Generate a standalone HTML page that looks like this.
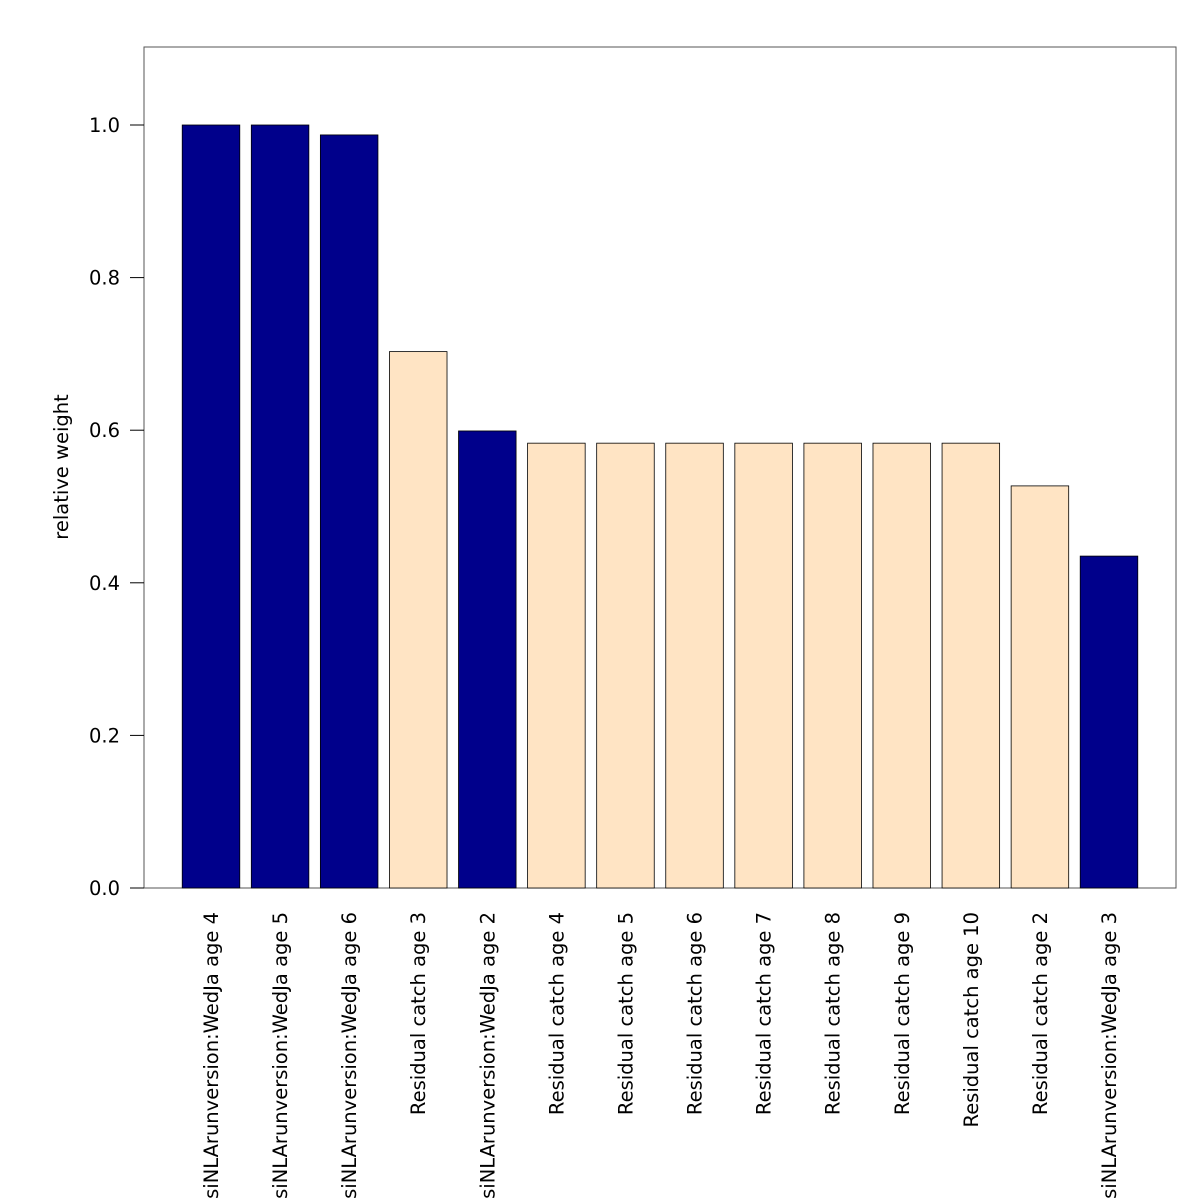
<!DOCTYPE html>
<html><head><meta charset="utf-8"><style>
html,body{margin:0;padding:0;background:#fff;}
svg{display:block;font-family:"DejaVu Sans","Liberation Sans",sans-serif;}
</style></head><body>
<svg id="chart" width="1200" height="1200" viewBox="0 0 1200 1200" xmlns="http://www.w3.org/2000/svg">
<rect x="144" y="47" width="1032" height="841" fill="none" stroke="#555" stroke-width="1"/>
<g id="yaxis"></g>
<g id="bars"></g>
<g id="xlabels"></g>
<text x="0" y="0" transform="translate(68,467) rotate(-90)" text-anchor="middle" font-size="19.5">relative weight</text>
</svg>
<script>
const categories = ["stasiNLArunversion:WedJa age 4","stasiNLArunversion:WedJa age 5","stasiNLArunversion:WedJa age 6","Residual catch age 3","stasiNLArunversion:WedJa age 2","Residual catch age 4","Residual catch age 5","Residual catch age 6","Residual catch age 7","Residual catch age 8","Residual catch age 9","Residual catch age 10","Residual catch age 2","stasiNLArunversion:WedJa age 3"];
const values = [1.0,1.0,0.987,0.703,0.599,0.583,0.583,0.583,0.583,0.583,0.583,0.583,0.527,0.435];
const groups = ["survey","survey","survey","catch","survey","catch","catch","catch","catch","catch","catch","catch","catch","survey"];
const yTicks = [0,0.2,0.4,0.6,0.8,1.0];
const yTickLabels = ["0.0","0.2","0.4","0.6","0.8","1.0"];

const NS="http://www.w3.org/2000/svg";
const y0=888, pxPerUnit=763;
function yScale(v){return y0 - v*pxPerUnit;}
const usrMin=-0.464, pxPerX=1032/17.928;
function xScale(u){return 144 + (u-usrMin)*pxPerX;}
const yAxis=document.getElementById('yaxis');
yTicks.forEach((t,i)=>{
  const y=yScale(t);
  const l=document.createElementNS(NS,'line');
  
  
  l.setAttribute('x1',130);l.setAttribute('x2',144);l.setAttribute('y1',y);l.setAttribute('y2',y);
  l.setAttribute('stroke','#000');yAxis.appendChild(l);
  const tx=document.createElementNS(NS,'text');
  
  
  tx.setAttribute('x',120);tx.setAttribute('y',y+7);tx.setAttribute('text-anchor','end');tx.setAttribute('font-size','19.5');
  tx.textContent=yTickLabels[i];yAxis.appendChild(tx);
});
const barsG=document.getElementById('bars'), labG=document.getElementById('xlabels');
values.forEach((v,i)=>{
  const left=xScale(0.2+i*1.2), right=xScale(1.2+i*1.2);
  const r=document.createElementNS(NS,'rect');
  
  
  r.setAttribute('x',left);r.setAttribute('width',right-left);
  r.setAttribute('y',yScale(v));r.setAttribute('height',yScale(0)-yScale(v));
  r.setAttribute('fill',groups[i]==='survey'?'#00008b':'#ffe4c4');
  r.setAttribute('stroke','#000');r.setAttribute('stroke-width','0.8');
  barsG.appendChild(r);
  const cx=(left+right)/2;
  const t=document.createElementNS(NS,'text');
  
  
  t.setAttribute('transform','translate('+(cx+7)+',912) rotate(-90)');
  t.setAttribute('text-anchor','end');t.setAttribute('font-size','19.5');
  t.textContent=categories[i];labG.appendChild(t);
});
</script>
</body></html>
